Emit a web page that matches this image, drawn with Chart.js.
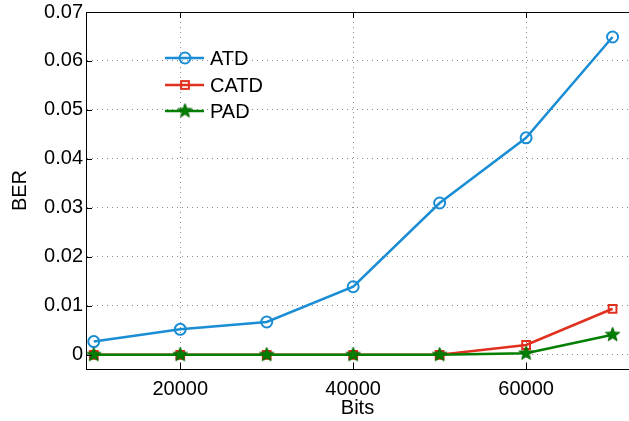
<!DOCTYPE html>
<html>
<head>
<meta charset="utf-8">
<script src="https://cdn.jsdelivr.net/npm/chart.js@4"></script>
<style>
  body { margin: 0; background: #fff; }
  canvas { display: block; }
</style>
</head>
<body>
<canvas id="berChart" width="629" height="421"></canvas>
<script>
const bits = [10000, 20000, 30000, 40000, 50000, 60000, 70000];
const atd = [0.0027, 0.0052, 0.0067, 0.0139, 0.0310, 0.0443, 0.0649];
const catd = [0, 0, 0, 0, 0, 0.0020, 0.0094];
const pad = [0, 0, 0, 0, 0, 0.0003, 0.0041];
const xTicks = [20000, 40000, 60000];
const yTicks = [0, 0.01, 0.02, 0.03, 0.04, 0.05, 0.06, 0.07];
const yTickLabels = ['0', '0.01', '0.02', '0.03', '0.04', '0.05', '0.06', '0.07'];

const FONT = 'Liberation Sans, Arial, Helvetica, sans-serif';
const BLUE = '#1a8dd4';
const RED = '#e0301e';
const GREEN = '#007f00';

// five point star marker, filled green
function makeStar(r) {
    const c = document.createElement('canvas');
    const s = Math.ceil(r * 2 + 4);
    c.width = s;
    c.height = s;
    const ctx = c.getContext('2d');
    ctx.beginPath();
    for (let i = 0; i < 10; i++) {
        const rad = i % 2 === 0 ? r : r * 0.42;
        const a = -Math.PI / 2 + i * Math.PI / 5;
        const px = s / 2 + rad * Math.cos(a);
        const py = s / 2 + rad * Math.sin(a);
        if (i === 0) ctx.moveTo(px, py); else ctx.lineTo(px, py);
    }
    ctx.closePath();
    ctx.fillStyle = GREEN;
    ctx.fill();
    ctx.strokeStyle = '#006400';
    ctx.lineWidth = 1;
    ctx.stroke();
    return c;
}
const star = makeStar(7.5);

function toPoints(ys) {
    return bits.map((x, i) => ({x: x, y: ys[i]}));
}

// legend drawn inside the axes, like the original
const innerLegend = {
    id: 'innerLegend',
    afterDraw(chart) {
        const ctx = chart.ctx;
        const rows = [58, 85, 111];
        ctx.save();
        chart.data.datasets.forEach((ds, i) => {
            const y = rows[i];
            ctx.strokeStyle = ds.borderColor;
            ctx.lineWidth = 2.5;
            ctx.beginPath();
            ctx.moveTo(165, y);
            ctx.lineTo(204, y);
            ctx.stroke();
            if (ds.pointStyle === 'circle') {
                ctx.lineWidth = 2;
                ctx.beginPath();
                ctx.arc(185, y, ds.pointRadius, 0, Math.PI * 2);
                ctx.stroke();
            } else if (ds.pointStyle === 'rect') {
                const h = ds.pointRadius * Math.SQRT1_2;
                ctx.lineWidth = 2;
                ctx.strokeRect(185 - h, y - h, 2 * h, 2 * h);
            } else {
                ctx.drawImage(ds.pointStyle, 185 - ds.pointStyle.width / 2, y - ds.pointStyle.height / 2);
            }
            ctx.fillStyle = '#000';
            ctx.font = '20px ' + FONT;
            ctx.textBaseline = 'middle';
            ctx.textAlign = 'left';
            ctx.fillText(ds.label, 210, y + 1);
        });
        ctx.restore();
    }
};

// top border and inward tick marks
const axesBox = {
    id: 'axesBox',
    afterDraw(chart) {
        const ctx = chart.ctx;
        const a = chart.chartArea;
        const xs = chart.scales.x;
        const ys = chart.scales.y;
        ctx.save();
        ctx.strokeStyle = '#000';
        ctx.lineWidth = 1;
        ctx.beginPath();
        ctx.moveTo(a.left, a.top + 0.5);
        ctx.lineTo(a.right, a.top + 0.5);
        for (const v of xTicks) {
            const px = Math.round(xs.getPixelForValue(v)) + 0.5;
            ctx.moveTo(px, a.bottom);
            ctx.lineTo(px, a.bottom - 6);
            ctx.moveTo(px, a.top);
            ctx.lineTo(px, a.top + 6);
        }
        for (const v of yTicks) {
            const py = Math.round(ys.getPixelForValue(v)) + 0.5;
            ctx.moveTo(a.left, py);
            ctx.lineTo(a.left + 6, py);
        }
        ctx.stroke();
        ctx.restore();
    }
};

new Chart(document.getElementById('berChart'), {
    type: 'line',
    data: {
        datasets: [{
            label: 'ATD',
            data: toPoints(atd),
            borderColor: BLUE,
            backgroundColor: 'rgba(0,0,0,0)',
            borderWidth: 2.5,
            pointStyle: 'circle',
            pointRadius: 5.5,
            pointBorderWidth: 2,
            order: 2,
            fill: false
        }, {
            label: 'CATD',
            data: toPoints(catd),
            borderColor: RED,
            backgroundColor: 'rgba(0,0,0,0)',
            borderWidth: 2.5,
            pointStyle: 'rect',
            pointRadius: 5.5,
            pointBorderWidth: 2,
            order: 1,
            fill: false
        }, {
            label: 'PAD',
            data: toPoints(pad),
            borderColor: GREEN,
            backgroundColor: GREEN,
            borderWidth: 2.5,
            pointStyle: star,
            pointRadius: 8,
            order: 0,
            fill: false
        }]
    },
    options: {
        responsive: false,
        animation: false,
        layout: {
            autoPadding: false,
            padding: {top: 12, right: 0, left: 0, bottom: 0}
        },
        plugins: {
            legend: {display: false},
            tooltip: {enabled: false}
        },
        scales: {
            x: {
                type: 'linear',
                min: 9100,
                max: 71900,
                afterBuildTicks: s => { s.ticks = xTicks.map(v => ({value: v})); },
                afterFit: s => {
                    s.height = 52;
                    s.paddingLeft = 0;
                    s.paddingRight = 0;
                },
                grid: {
                    color: '#8a8a8a',
                    lineWidth: 1,
                    drawTicks: false
                },
                border: {display: true, color: '#000', width: 1, dash: [1, 4]},
                ticks: {
                    padding: 8,
                    color: '#000',
                    font: {family: FONT, size: 20},
                    maxRotation: 0,
                    callback: v => String(v)
                },
                title: {
                    display: true,
                    text: 'Bits',
                    color: '#000',
                    font: {family: FONT, size: 20},
                    padding: {top: 0, bottom: 1}
                }
            },
            y: {
                min: -0.0029,
                max: 0.07,
                afterBuildTicks: s => { s.ticks = yTicks.map(v => ({value: v})); },
                afterFit: s => {
                    s.width = 86;
                    s.paddingTop = 0;
                    s.paddingBottom = 0;
                },
                grid: {
                    color: '#8a8a8a',
                    lineWidth: 1,
                    drawTicks: false
                },
                border: {display: true, color: '#000', width: 1, dash: [1, 4]},
                ticks: {
                    padding: 3,
                    color: '#000',
                    font: {family: FONT, size: 20},
                    callback: (v, i) => yTickLabels[i]
                },
                title: {
                    display: true,
                    text: 'BER',
                    color: '#000',
                    font: {family: FONT, size: 20},
                    padding: {top: 8, bottom: 0}
                }
            }
        }
    },
    plugins: [innerLegend, axesBox]
});
</script>
</body>
</html>
